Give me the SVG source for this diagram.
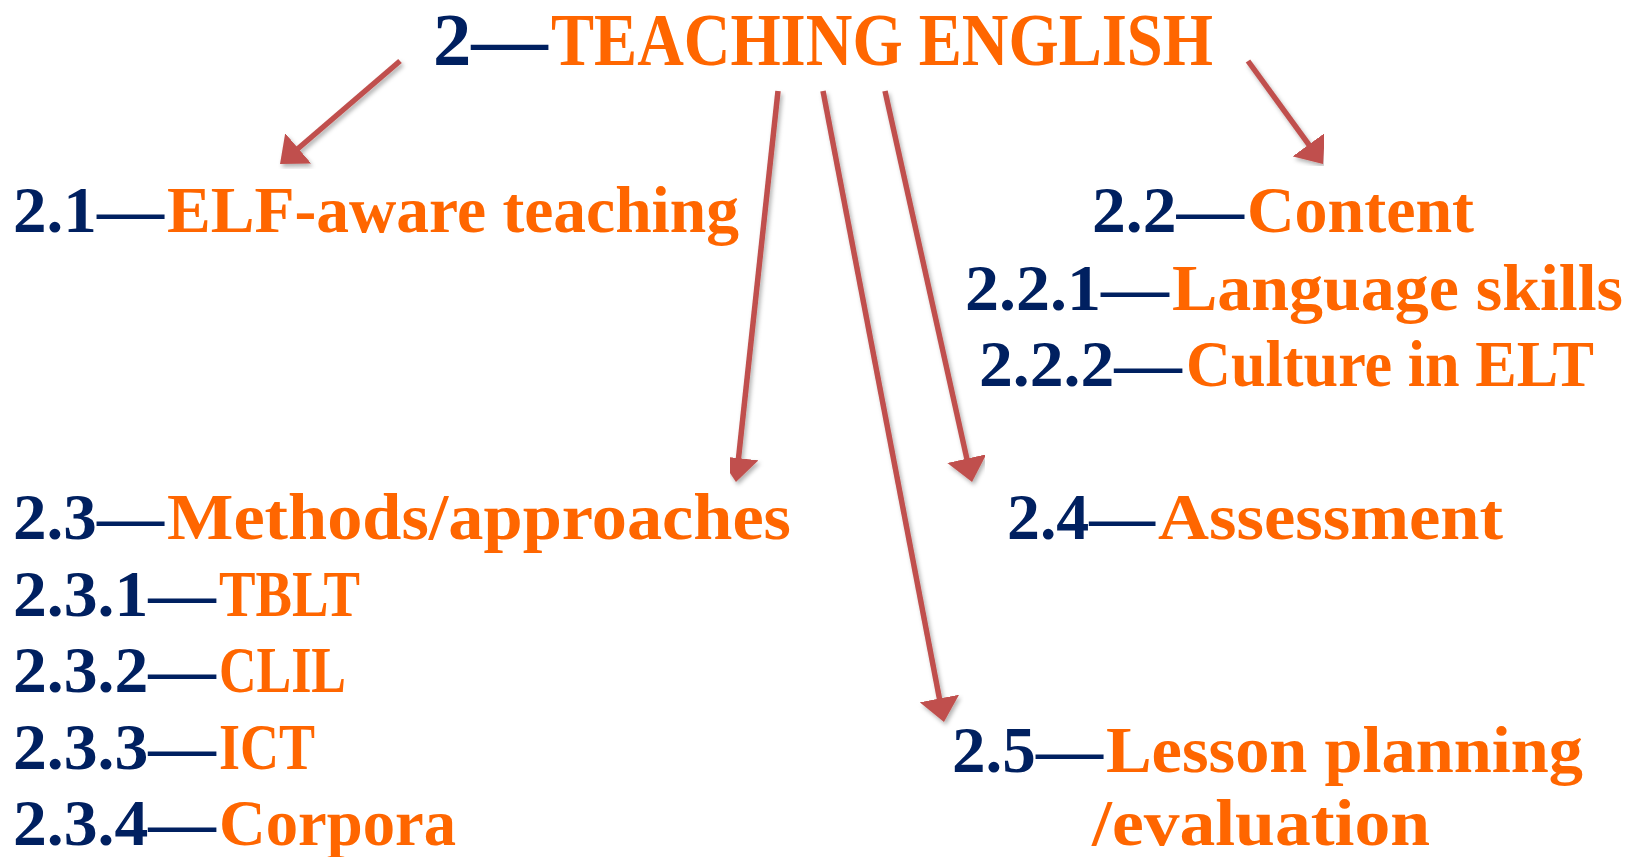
<svg xmlns="http://www.w3.org/2000/svg" width="1636" height="857" viewBox="0 0 1636 857">
<style>
text{font-family:"Liberation Serif","DejaVu Serif",serif;font-weight:bold}
.n{fill:#002060}
.o{fill:#FF6600}
.t{font-size:73px}
.s{font-size:66px}
.c{stroke:#C0504D;stroke-width:5.5;fill:none;marker-end:url(#ah);filter:url(#sh)}
</style>
<defs>
<marker id="ah" markerUnits="userSpaceOnUse" viewBox="0 0 24 40" markerWidth="24" markerHeight="40" refX="4" refY="20" orient="auto">
<path d="M0,0 L24,20 L0,40 z" fill="#C0504D"/>
</marker>
<filter id="sh" x="-20%" y="-20%" width="140%" height="140%">
<feDropShadow dx="2" dy="3" stdDeviation="2" flood-color="#000" flood-opacity="0.3"/>
</filter>
</defs>
<rect width="1636" height="857" fill="#fff"/>
<g id="connectors">
<line class="c" x1="400" y1="61" x2="295.2" y2="151"/>
<line class="c" x1="778" y1="91" x2="738.1" y2="462.1"/>
<line class="c" x1="823" y1="91" x2="940.2" y2="702.4"/>
<line class="c" x1="885" y1="91" x2="967.7" y2="462.5"/>
<line class="c" x1="1248" y1="61" x2="1311.2" y2="147.8"/>
</g>
<g id="n2">
<text class="t n" x="433" y="65" textLength="115" lengthAdjust="spacingAndGlyphs">2—</text>
<text class="t o" x="551" y="65" textLength="662" lengthAdjust="spacingAndGlyphs">TEACHING ENGLISH</text>
</g>
<g id="n21">
<text class="s n" x="13" y="232" textLength="151" lengthAdjust="spacingAndGlyphs">2.1—</text>
<text class="s o" x="167" y="232" textLength="572" lengthAdjust="spacingAndGlyphs">ELF-aware teaching</text>
</g>
<g id="n22">
<text class="s n" x="1092" y="232" textLength="152" lengthAdjust="spacingAndGlyphs">2.2—</text>
<text class="s o" x="1247" y="232" textLength="227" lengthAdjust="spacingAndGlyphs">Content</text>
<text class="s n" x="965" y="310" textLength="204" lengthAdjust="spacingAndGlyphs">2.2.1—</text>
<text class="s o" x="1172" y="310" textLength="451" lengthAdjust="spacingAndGlyphs">Language skills</text>
<text class="s n" x="979" y="386" textLength="203" lengthAdjust="spacingAndGlyphs">2.2.2—</text>
<text class="s o" x="1186" y="386" textLength="408" lengthAdjust="spacingAndGlyphs">Culture in ELT</text>
</g>
<g id="n23">
<text class="s n" x="13" y="539" textLength="151" lengthAdjust="spacingAndGlyphs">2.3—</text>
<text class="s o" x="167" y="539" textLength="624" lengthAdjust="spacingAndGlyphs">Methods/approaches</text>
<text class="s n" x="13" y="616" textLength="203" lengthAdjust="spacingAndGlyphs">2.3.1—</text>
<text class="s o" x="219" y="616" textLength="141" lengthAdjust="spacingAndGlyphs">TBLT</text>
<text class="s n" x="13" y="692" textLength="203" lengthAdjust="spacingAndGlyphs">2.3.2—</text>
<text class="s o" x="219" y="692" textLength="127" lengthAdjust="spacingAndGlyphs">CLIL</text>
<text class="s n" x="13" y="769" textLength="203" lengthAdjust="spacingAndGlyphs">2.3.3—</text>
<text class="s o" x="219" y="769" textLength="96" lengthAdjust="spacingAndGlyphs">ICT</text>
<text class="s n" x="13" y="845" textLength="203" lengthAdjust="spacingAndGlyphs">2.3.4—</text>
<text class="s o" x="219" y="845" textLength="237" lengthAdjust="spacingAndGlyphs">Corpora</text>
</g>
<g id="n24">
<text class="s n" x="1007" y="539" textLength="148" lengthAdjust="spacingAndGlyphs">2.4—</text>
<text class="s o" x="1158" y="539" textLength="345" lengthAdjust="spacingAndGlyphs">Assessment</text>
</g>
<g id="n25">
<text class="s n" x="952" y="772" textLength="151" lengthAdjust="spacingAndGlyphs">2.5—</text>
<text class="s o" x="1106" y="772" textLength="477" lengthAdjust="spacingAndGlyphs">Lesson planning</text>
<text class="s o" x="1092" y="845" textLength="338" lengthAdjust="spacingAndGlyphs">/evaluation</text>
</g>
</svg>
